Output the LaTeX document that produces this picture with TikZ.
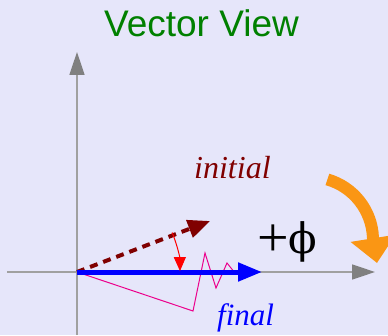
\documentclass[tikz,border=0pt]{standalone}
\usepackage{fontspec}
\setmainfont{Liberation Serif}
\newfontfamily\titlefont{Liberation Sans}
\newfontfamily\phifont{DejaVu Serif}
\usetikzlibrary{arrows.meta}
\definecolor{bgc}{RGB}{230,230,250}
\definecolor{axisline}{RGB}{160,160,160}
\definecolor{axishead}{RGB}{128,128,128}
\definecolor{maroonc}{RGB}{128,0,0}
\definecolor{titlegreen}{RGB}{0,128,0}
\definecolor{orangec}{RGB}{250,150,20}
\tikzset{
  axis/.style={draw=axisline, line width=1.5pt, -{Triangle[length=23pt,width=15pt,fill=axishead,color=axishead]}},
  lbl/.style={inner sep=0pt, anchor=base west},
}
\begin{document}
\begin{tikzpicture}[x=1pt,y=1pt]
\fill[bgc] (0,0) rectangle (388,335);
\useasboundingbox (0,0) rectangle (388,335);
\node[inner sep=0pt, anchor=base, text=titlegreen, font=\titlefont\fontsize{37}{40}\selectfont] (title) at (201.5,298) {Vector View};
\coordinate (O) at (77,63);
\coordinate (xl) at (7,63);
\coordinate (xr) at (375,63);
\coordinate (yb) at (77,0);
\coordinate (yt) at (77,283);
\draw[axis] (xl) -- (xr);
\draw[axis] (yb) -- (yt);
% magenta zigzag
\coordinate (m1) at (193,24);
\coordinate (m2) at (205,82);
\coordinate (m3) at (216,47);
\coordinate (m4) at (227,72);
\coordinate (m5) at (235,62);
\draw[magenta, line width=1pt, line join=miter] (O) -- (m1) -- (m2) -- (m3) -- (m4) -- (m5);
% initial dashed vector
\coordinate (vi) at (210,114);
\draw[maroonc, line width=4pt, dash pattern=on 8pt off 6pt, -{Triangle[length=22pt,width=18pt]}] (O) -- (vi);
% final vector
\coordinate (vf) at (262,63);
\draw[blue, line width=5pt, -{Triangle[length=24pt,width=18pt]}] (O) -- (vf);
% red rotation arc
\draw[red, line width=1pt, -{Triangle[length=14pt,width=12pt]}] ([shift={(22.5:103)}]O) arc[start angle=22.5, end angle=0.5, radius=103];
% orange arc
\coordinate (oc) at (310,95);
\coordinate (otip) at (377,72);
\draw[orangec, line width=12pt, -{Triangle[length=25pt,width=44pt]}] ([shift={(74:63)}]oc) arc[start angle=74, end angle=2, radius=63] -- (otip);
% labels
\node[lbl, text=maroonc, font=\itshape\fontsize{32}{34}\selectfont] (initial) at (194,157) {initial};
\node[lbl, text=blue, font=\itshape\fontsize{31}{34}\selectfont] (final) at (217,10) {final};
\node[lbl, text=black] (phi) at (257,82) {\raisebox{-3pt}{\fontsize{56}{58}\selectfont +}\hspace{0pt}{\phifont\fontsize{42}{44}\selectfont ϕ}};
\end{tikzpicture}
\end{document}
